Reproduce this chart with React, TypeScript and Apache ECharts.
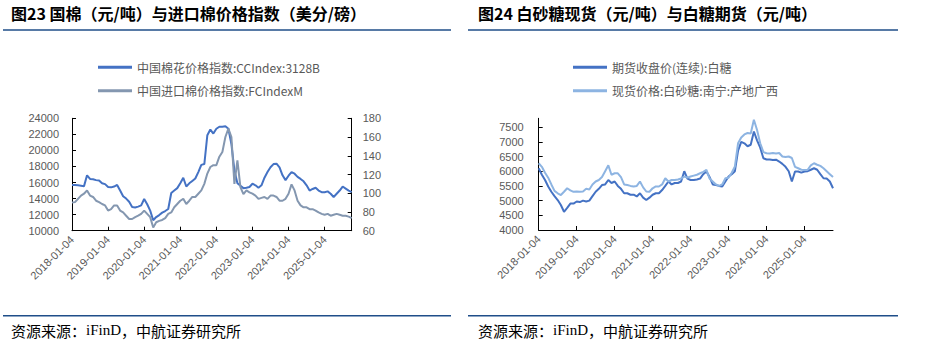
import React, { useEffect, useRef } from "react";
import * as echarts from "echarts";

// Monthly categories, 2018-01 .. 2025-10
const startYear = 2018;
const monthCount = 94;
const months: string[] = [];
for (let i = 0; i < monthCount; i++) {
  const y = startYear + Math.floor(i / 12);
  const m = (i % 12) + 1;
  months.push(`${y}-${String(m).padStart(2, "0")}-04`);
}

const cottonNames = ["中国棉花价格指数:CCIndex:3128B", "中国进口棉价格指数:FCIndexM"];
const sugarNames = ["期货收盘价(连续):白糖", "现货价格:白砂糖:南宁:产地广西"];

// 中国棉花价格指数 (元/吨), left axis
const ccIndex = [
  15700, 15700, 15650, 15600, 15550, 16900, 16450, 16400, 16300, 16250, 15900, 15800,
  15450, 15400, 15500, 15700, 15000, 14300, 14000, 13600, 12950, 12900, 13000, 13150,
  13950, 13300, 12500, 11300, 11700, 11950, 12250, 12450, 12700, 14700, 15000, 15300,
  15900, 16600, 15500, 15900, 16200, 16500, 17300, 18200, 18300, 21900, 22600, 22100,
  22700, 22950, 22950, 23000, 22700, 20800, 17500, 15900, 15600, 15300, 15350, 15450,
  15850, 15650, 15350, 15650, 16600, 17300, 17900, 18300, 18350, 17900, 16900, 16300,
  16850, 17300, 17100, 16700, 16450, 16150, 15650, 15000, 15200, 15350, 15000, 14800,
  14800, 14900, 14600, 14200, 14600, 15000, 15500, 15250, 15000, 14800,
];

// 中国进口棉价格指数 (美分/磅), right axis
const fcIndex = [
  90, 90.5, 94, 97.5, 99.5, 103, 97.5, 96, 92, 90.5, 88.5, 87,
  81.5, 83, 87, 87, 81.5, 79.5, 76, 72.5, 72.5, 74.5, 76, 78,
  81.5, 78, 74.5, 63.5, 69, 70.5, 71.5, 73.5, 78, 79.5, 85, 88.5,
  92, 94, 88.5, 92, 96, 96, 99.5, 103, 110, 121, 128, 130,
  130, 139, 144, 160, 169, 160, 110, 135, 106.5, 99, 103, 101,
  99.5, 97.5, 94, 95, 96, 94, 97.5, 97.5, 96, 92, 92, 94,
  99.5, 109.5, 103, 92, 87, 85, 85, 83, 83, 81.5, 79.5, 78,
  77, 78, 76, 77, 78, 77, 76, 76, 75, 73.5,
];

// 期货收盘价(连续):白糖
const sugarFutures = [
  6100, 5880, 5700, 5480, 5300, 5150, 5020, 4850, 4620, 4750, 4900, 4900,
  4970, 4950, 5000, 4970, 5000, 5150, 5300, 5400, 5530, 5550, 5700, 5600,
  5650, 5500, 5400, 5250, 5250, 5200, 5200, 5140, 5250, 5100, 5020, 5100,
  5200, 5250, 5250, 5360, 5500, 5650, 5550, 5600, 5600, 5650, 6000, 5750,
  5700, 5700, 5720, 5750, 5900, 5990, 5800, 5550, 5530, 5500, 5480, 5650,
  5820, 5900, 6000, 6700, 7000, 6950, 6850, 6900, 7350, 7050, 6800, 6440,
  6400, 6400, 6380, 6390, 6330, 6250, 6150, 6000, 5650, 5990, 5990, 5950,
  5990, 6000, 6050, 6100, 6050, 5900, 5760, 5750, 5650, 5420,
];

// 现货价格:白砂糖:南宁:产地广西
const sugarSpot = [
  6270, 6150, 5950, 5780, 5550, 5330, 5250, 5190, 5300, 5420, 5350, 5300,
  5310, 5300, 5310, 5400, 5380, 5550, 5650, 5700, 5800, 6000, 6200, 5880,
  5930, 5930, 5800, 5550, 5530, 5500, 5480, 5500, 5650, 5450, 5310, 5300,
  5420, 5480, 5480, 5550, 5760, 5650, 5700, 5700, 5720, 5750, 5820, 5780,
  5820, 5850, 5880, 5930, 5980, 6045, 5750, 5650, 5550, 5500, 5550, 5760,
  5780, 5950, 6160, 6950, 7150, 7250, 7300, 7280, 7750, 7400, 6950, 6650,
  6610, 6600, 6620, 6600, 6620, 6500, 6480, 6500, 6450, 6150, 6100, 6050,
  6045, 6050, 6200, 6270, 6220, 6180, 6100, 6000, 5900, 5800,
];

const labelColor = "#595959";
const axisFont = "Liberation Sans";
const cjkFont = "Noto Sans CJK SC";
const navy = "#1F4E89";

const yearTick = (index: number) => index % 12 === 0;

function makeXAxis(gridIndex: number) {
  return {
    type: "category",
    gridIndex,
    data: months,
    boundaryGap: false,
    axisLine: { show: true, lineStyle: { color: "#000", width: 1 } },
    axisTick: { show: true, inside: true, length: 4, interval: yearTick, lineStyle: { color: "#000" } },
    axisLabel: {
      interval: yearTick,
      rotate: 45,
      fontSize: 11,
      color: labelColor,
      fontFamily: axisFont,
      margin: 7,
    },
    splitLine: { show: false },
  };
}

function makeYAxis(gridIndex: number, min: number, max: number, interval: number, position: string, margin: number) {
  return {
    type: "value",
    gridIndex,
    min,
    max,
    interval,
    position,
    axisLine: { show: true, lineStyle: { color: "#000", width: 1 } },
    axisTick: { show: true, inside: true, length: 4, lineStyle: { color: "#000" } },
    axisLabel: {
      fontSize: 11,
      color: labelColor,
      fontFamily: axisFont,
      margin,
      showMaxLabel: max % interval === 0,
      formatter: (v: number) => String(v),
    },
    splitLine: { show: false },
  };
}

function makeLegend(names: string[], left: number) {
  return {
    data: names,
    orient: "vertical",
    left,
    top: 60.3,
    padding: 0,
    icon: "rect",
    itemWidth: 34,
    itemHeight: 3,
    itemGap: 9.4,
    textStyle: { fontSize: 12, lineHeight: 14, color: labelColor, fontFamily: cjkFont },
  };
}

export default function App() {
  const ref = useRef<HTMLDivElement>(null);
  useEffect(() => {
    if (!ref.current) return;
    const chart = echarts.init(ref.current, undefined, { renderer: "svg" });
    const titleStyle = { fontSize: 16, fontWeight: "bold", fontFamily: cjkFont, fill: "#000", verticalAlign: "middle" };
    const sourceRich = {
      a: { fontSize: 15, fontFamily: cjkFont, fill: "#000" },
      b: { fontSize: 15, fontFamily: "Liberation Serif", fill: "#000" },
    };
    const option: any = {
      animation: false,
      backgroundColor: "#fff",
      graphic: [
        { type: "text", x: 11, y: 13, style: { ...titleStyle, text: "图23 国棉（元/吨）与进口棉价格指数（美分/磅）" } },
        { type: "text", x: 478, y: 13, style: { ...titleStyle, text: "图24 白砂糖现货（元/吨）与白糖期货（元/吨）" } },
        { type: "line", shape: { x1: 3, y1: 30, x2: 451, y2: 30 }, style: { stroke: navy, lineWidth: 1.5 } },
        { type: "line", shape: { x1: 468, y1: 30, x2: 898, y2: 30 }, style: { stroke: navy, lineWidth: 1.5 } },
        { type: "line", shape: { x1: 3, y1: 315.7, x2: 451, y2: 315.7 }, style: { stroke: navy, lineWidth: 1.5 } },
        { type: "line", shape: { x1: 468, y1: 315.7, x2: 898, y2: 315.7 }, style: { stroke: navy, lineWidth: 1.5 } },
        {
          type: "text", x: 11, y: 330,
          style: { text: "{a|资源来源：}{b|iFinD}{a|，中航证券研究所}", rich: sourceRich, verticalAlign: "middle" },
        },
        {
          type: "text", x: 478, y: 330,
          style: { text: "{a|资源来源：}{b|iFinD}{a|，中航证券研究所}", rich: sourceRich, verticalAlign: "middle" },
        },
      ],
      legend: [makeLegend(cottonNames, 98), makeLegend(sugarNames, 573)],
      grid: [
        { left: 72, top: 118.3, width: 279.7, height: 112.4 },
        { left: 538.7, top: 118.3, width: 294.3, height: 111.7 },
      ],
      xAxis: [makeXAxis(0), makeXAxis(1)],
      yAxis: [
        makeYAxis(0, 10000, 24000, 2000, "left", 13),
        makeYAxis(0, 60, 180, 20, "right", 11),
        makeYAxis(1, 4000, 7800, 500, "left", 15),
      ],
      series: [
        {
          name: cottonNames[0], type: "line", xAxisIndex: 0, yAxisIndex: 0, data: ccIndex,
          symbol: "none", lineStyle: { width: 2, color: "#4472C4" }, itemStyle: { color: "#4472C4" },
        },
        {
          name: cottonNames[1], type: "line", xAxisIndex: 0, yAxisIndex: 1, data: fcIndex,
          symbol: "none", lineStyle: { width: 2, color: "#8497B0" }, itemStyle: { color: "#8497B0" },
        },
        {
          name: sugarNames[0], type: "line", xAxisIndex: 1, yAxisIndex: 2, data: sugarFutures,
          symbol: "none", lineStyle: { width: 2, color: "#4472C4" }, itemStyle: { color: "#4472C4" },
        },
        {
          name: sugarNames[1], type: "line", xAxisIndex: 1, yAxisIndex: 2, data: sugarSpot,
          symbol: "none", lineStyle: { width: 2, color: "#8DB4E2" }, itemStyle: { color: "#8DB4E2" },
        },
      ],
    };
    chart.setOption(option);
    return () => chart.dispose();
  }, []);
  return <div ref={ref} style={{ position: "absolute", left: 0, top: 0, width: 925, height: 353 }} />;
}
